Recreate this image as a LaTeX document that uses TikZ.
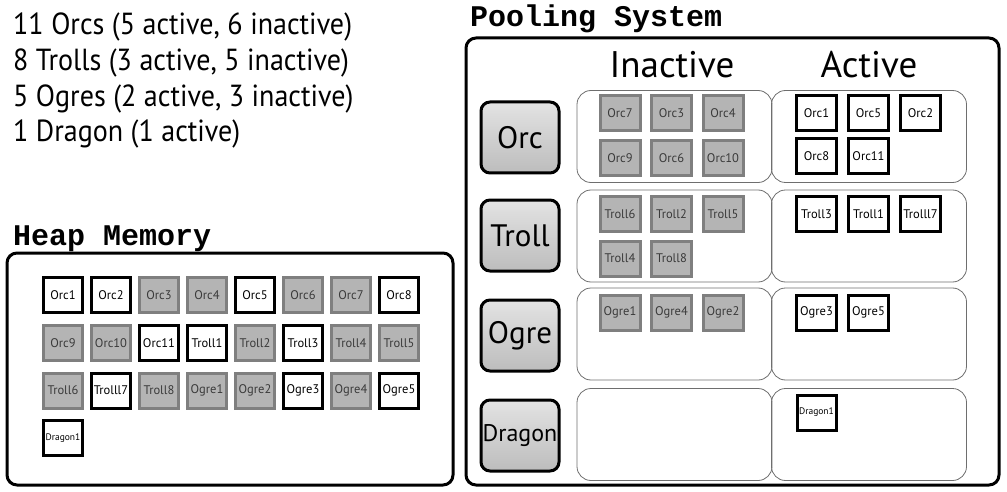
\documentclass[tikz,border=0pt]{standalone}
\usepackage{fontspec}
\setmainfont{PT Sans}
\newfontfamily\infofont[FakeStretch=0.92]{PT Sans}
\newfontfamily\monohead{Liberation Mono}
\usetikzlibrary{shadings}
\definecolor{cellfill}{HTML}{B4B4B4}
\definecolor{cellborder}{HTML}{7F7F7F}
\definecolor{celltext}{HTML}{3A3A3A}
\definecolor{rowline}{HTML}{6E6E6E}
\tikzset{
  cellbase/.style={minimum width=40pt, minimum height=35pt, inner sep=0pt, line width=3pt,
    font=\fontsize{12.5}{14}\selectfont},
  inact/.style={cellbase, draw=cellborder, fill=cellfill, text=celltext},
  act/.style={cellbase, draw=black, fill=white, text=black},
  smallfont/.style={font=\fontsize{9.5}{11}\selectfont},
  rowbox/.style={draw=rowline, line width=0.8pt, rounded corners=14pt, minimum width=195pt, minimum height=92pt, inner sep=0pt},
  outerbox/.style={draw=black, line width=3pt, rounded corners=10pt, inner sep=0pt},
  catbtn/.style={draw=black, line width=3pt, rounded corners=9pt, minimum width=78pt, minimum height=71pt, inner sep=0pt,
    top color=gray!22, middle color=gray!6, bottom color=gray!52, text=black},
  headlbl/.style={anchor=base west, inner sep=0pt, font=\monohead\bfseries\fontsize{30}{34}\selectfont},
  infolbl/.style={anchor=base west, inner sep=0pt, font=\infofont\fontsize{30.5}{36}\selectfont},
  collbl/.style={anchor=base, inner sep=0pt, font=\fontsize{37}{42}\selectfont},
}
\begin{document}
\begin{tikzpicture}[x=1pt,y=-1pt]
\useasboundingbox (0,0) rectangle (1007,492);
% info text
\node[infolbl] (t1) at (13,35) {11 Orcs (5 active, 6 inactive)};
\node[infolbl] (t2) at (13,70.5) {8 Trolls (3 active, 5 inactive)};
\node[infolbl] (t3) at (13,106.5) {5 Ogres (2 active, 3 inactive)};
\node[infolbl] (t4) at (13,142) {1 Dragon (1 active)};
% headings
\node[headlbl] (hh) at (13,245) {Heap Memory};
\node[headlbl] (ph) at (470,27) {Pooling System};
% outer boxes
\node[outerbox, minimum width=446pt, minimum height=232pt] (heap) at (230,369) {};
\node[outerbox, minimum width=533pt, minimum height=447pt] (pool) at (732.5,261.5) {};
% heap cells
\foreach \lbl/\st [count=\i from 0] in {Orc1/act,Orc2/act,Orc3/inact,Orc4/inact,Orc5/act,Orc6/inact,Orc7/inact,Orc8/act,
  Orc9/inact,Orc10/inact,Orc11/act,Troll1/act,Troll2/inact,Troll3/act,Troll4/inact,Troll5/inact,
  Troll6/inact,Trolll7/act,Troll8/inact,Ogre1/inact,Ogre2/inact,Ogre3/act,Ogre4/inact,Ogre5/act}{
  \pgfmathtruncatemacro{\cc}{mod(\i,8)}
  \pgfmathtruncatemacro{\rr}{div(\i,8)}
  \node[\st, minimum width=39pt] (h-\lbl) at ({63+48*\cc},{295+47.8*\rr}) {\lbl};
}
\node[act, smallfont, minimum width=39pt] (h-Dragon1) at (63,438) {Dragon1};
% column titles
\node[collbl] (inl) at (672,78) {Inactive};
\node[collbl] (acl) at (869,78) {Active};
% row boxes
\node[rowbox] (orc-i) at (674.5,136.5) {};
\node[rowbox] (orc-a) at (869,136.5) {};
\node[rowbox] (tro-i) at (674.5,236) {};
\node[rowbox] (tro-a) at (869,236) {};
\node[rowbox] (ogr-i) at (674.5,334) {};
\node[rowbox] (ogr-a) at (869,334) {};
\node[rowbox] (dra-i) at (674.5,434.5) {};
\node[rowbox] (dra-a) at (869,434.5) {};
% category buttons
\node[catbtn, font=\fontsize{31}{34}\selectfont] (b-orc) at (520,137.5) {Orc};
\node[catbtn, font=\fontsize{31}{34}\selectfont] (b-troll) at (520,235.5) {Troll};
\node[catbtn, font=\fontsize{31}{34}\selectfont] (b-ogre) at (520,335.5) {Ogre};
\node[catbtn, font=\fontsize{24}{28}\selectfont] (b-dragon) at (520,435.5) {Dragon};
% pool cells: Orc
\node[inact] (p-Orc7) at (620,113) {Orc7};
\node[inact] (p-Orc3) at (671.5,113) {Orc3};
\node[inact] (p-Orc4) at (723,113) {Orc4};
\node[inact] (p-Orc9) at (620,158) {Orc9};
\node[inact] (p-Orc6) at (671.5,158) {Orc6};
\node[inact] (p-Orc10) at (723,158) {Orc10};
\node[act] (p-Orc1) at (816.5,113) {Orc1};
\node[act] (p-Orc5) at (868.5,113) {Orc5};
\node[act] (p-Orc2) at (920.5,113) {Orc2};
\node[act] (p-Orc8) at (816.5,156.5) {Orc8};
\node[act] (p-Orc11) at (868.5,156.5) {Orc11};
% Troll
\node[inact] (p-Troll6) at (620,214) {Troll6};
\node[inact] (p-Troll2) at (671.5,214) {Troll2};
\node[inact] (p-Troll5) at (723,214) {Troll5};
\node[inact] (p-Troll4) at (620,258.5) {Troll4};
\node[inact] (p-Troll8) at (671.5,258.5) {Troll8};
\node[act] (p-Troll3) at (816.5,214) {Troll3};
\node[act] (p-Troll1) at (868.5,214) {Troll1};
\node[act] (p-Trolll7) at (920.5,214) {Trolll7};
% Ogre
\node[inact] (p-Ogre1) at (620,312.5) {Ogre1};
\node[inact] (p-Ogre4) at (671.5,312.5) {Ogre4};
\node[inact] (p-Ogre2) at (723,312.5) {Ogre2};
\node[act] (p-Ogre3) at (816.5,312.5) {Ogre3};
\node[act] (p-Ogre5) at (868.5,312.5) {Ogre5};
% Dragon
\node[act, smallfont, minimum width=39pt] (p-Dragon1) at (816.5,412.5) {Dragon1};
\end{tikzpicture}
\end{document}
